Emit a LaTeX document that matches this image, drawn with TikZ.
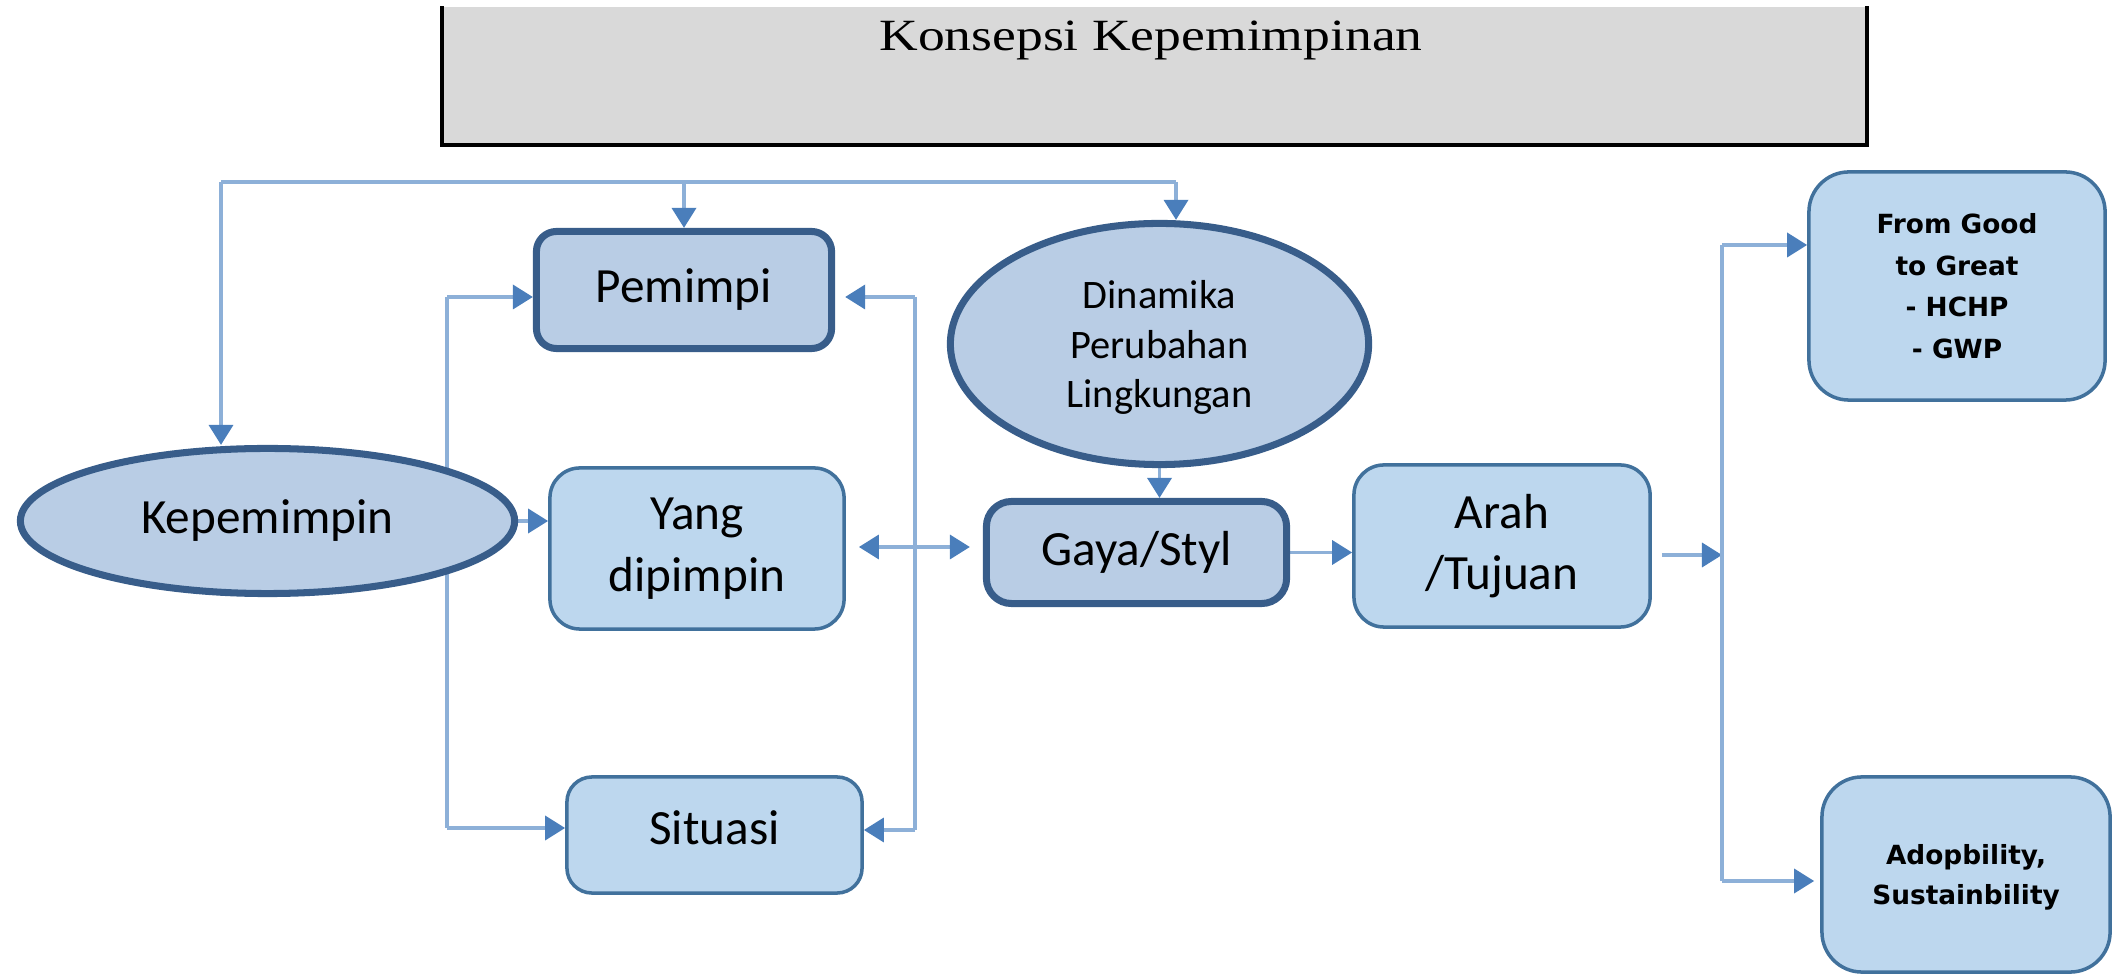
\documentclass[tikz,border=0pt]{standalone}
\usepackage{fontspec}
\usepackage{graphicx}
\setmainfont{Carlito}
\newfontfamily\judulfont{Liberation Serif}
\newfontfamily\kotakfont{DejaVu Sans}
\usetikzlibrary{shapes.geometric,arrows.meta,backgrounds}
\definecolor{garis}{RGB}{141,176,216}
\definecolor{panah}{RGB}{74,126,187}
\definecolor{isigelap}{RGB}{185,205,229}
\definecolor{tepigelap}{RGB}{56,93,138}
\definecolor{isiterang}{RGB}{189,215,238}
\definecolor{tepiterang}{RGB}{65,113,156}
\definecolor{abu}{RGB}{217,217,217}

\begin{document}
\begin{tikzpicture}[x=0.01cm, y=-0.01cm,
	gelap/.style={draw=tepigelap, fill=isigelap, line width=2pt, rounded corners=0.2cm, inner sep=0pt, align=center, font=\fontsize{14}{17.5}\selectfont},
	terang/.style={draw=tepiterang, fill=isiterang, line width=1pt, rounded corners=0.3cm, inner sep=0pt, align=center, font=\fontsize{14}{17.5}\selectfont},
	elips/.style={ellipse, draw=tepigelap, fill=isigelap, line width=2pt, inner sep=0pt, align=center},
	bus/.style={draw=garis, line width=1.1pt},
	link/.style={draw=garis, line width=1.1pt, -{Triangle[length=5.7pt, width=6.8pt, color=panah]}}]
	\useasboundingbox (0,0) rectangle (2116,980);

	% judul
	\node[fill=abu, minimum width=14.23cm, minimum height=1.37cm, inner sep=0pt] (judul) at (1154.5,75.5) {};
	\draw[line width=1.2pt] (judul.north west) -- (judul.south west) -- (judul.south east) -- (judul.north east);
	\node[font=\judulfont\fontsize{12.7}{15}\selectfont, inner sep=0pt] (judultulisan) at (1151,40) {\scalebox{1.2}[1]{Konsepsi Kepemimpinan}};

	\node[elips, minimum width=4.94cm, minimum height=1.45cm, font=\fontsize{14}{17}\selectfont] (kepemimpin) at (267.5,521) {Kepemimpin};
	\node[gelap, minimum width=2.95cm, minimum height=1.17cm] (pemimpi) at (684,290) {Pemimpi};
	\node[terang, minimum width=2.94cm, minimum height=1.61cm] (yang) at (697,548.5) {Yang\\dipimpin};
	\node[terang, minimum width=2.95cm, minimum height=1.16cm, rounded corners=0.25cm, text depth=0.45em] (situasi) at (714.5,835) {Situasi};
	\node[elips, minimum width=4.18cm, minimum height=2.41cm, text depth=-3.2pt, font=\fontsize{11.5}{14.2}\selectfont] (dinamika) at (1159.5,344) {Dinamika\\Perubahan\\Lingkungan};
	\node[gelap, minimum width=3cm, minimum height=1.02cm, rounded corners=0.25cm] (gaya) at (1136.5,552.5) {Gaya/Styl};
	\node[terang, minimum width=2.96cm, minimum height=1.62cm] (arah) at (1502,546) {Arah\\/Tujuan};
	\node[terang, minimum width=2.96cm, minimum height=2.28cm, rounded corners=0.4cm, font=\kotakfont\bfseries\fontsize{7.5}{11.8}\selectfont] (good) at (1957,286) {From Good\\to Great\\- HCHP\\- GWP};
	\node[terang, minimum width=2.88cm, minimum height=1.95cm, rounded corners=0.4cm, text depth=-2.8pt, font=\kotakfont\bfseries\fontsize{7.5}{11.5}\selectfont] (adop) at (1966,874.5) {Adopbility,\\Sustainbility};

	\coordinate (atasKiri) at (221,182);
	\coordinate (atasKanan) at (1176,182);
	\coordinate (kiriAtas) at (447,297);
	\coordinate (kiriBawah) at (447,828);
	\coordinate (kananAtas) at (915,297);
	\coordinate (kananTengah) at (915,547);
	\coordinate (kananBawah) at (915,830);
	\coordinate (cabangAtas) at (1722,245);
	\coordinate (cabangTengah) at (1722,555);
	\coordinate (cabangBawah) at (1722,881);

	\begin{pgfonlayer}{background}
		\draw[bus] (atasKiri) -- (atasKanan);
		\draw[link] (atasKiri) -- (atasKiri |- kepemimpin.north);
		\draw[link] (pemimpi.north |- atasKiri) -- (pemimpi.north);
		\draw[link] (atasKanan) -- (atasKanan |- dinamika.north);

		\draw[bus] (kiriAtas) -- (kiriBawah);
		\draw[link] (kiriAtas) -- (pemimpi.west |- kiriAtas);
		\draw[link] (kiriBawah) -- (situasi.west |- kiriBawah);
		\draw[link] (kepemimpin.east) -- (yang.west |- kepemimpin.east);

		\draw[bus] (kananAtas) -- (kananBawah);
		\draw[link, shorten >=1mm] (kananAtas) -- (pemimpi.east |- kananAtas);
		\draw[link, shorten >=1.3mm] (kananTengah) -- (yang.east |- kananTengah);
		\draw[link, shorten >=1.3mm] (kananTengah) -- (gaya.west |- kananTengah);
		\draw[link] (kananBawah) -- (situasi.east |- kananBawah);

		\draw[link] (dinamika.south) -- (dinamika.south |- gaya.north);
		\draw[link] (gaya.east) -- (arah.west |- gaya.east);
		\draw[link, shorten <=1mm] (arah.east |- cabangTengah) -- (cabangTengah);

		\draw[bus] (cabangAtas) -- (cabangBawah);
		\draw[link] (cabangAtas) -- (good.west |- cabangAtas);
		\draw[link, shorten >=0.6mm] (cabangBawah) -- (adop.west |- cabangBawah);
	\end{pgfonlayer}
\end{tikzpicture}
\end{document}
